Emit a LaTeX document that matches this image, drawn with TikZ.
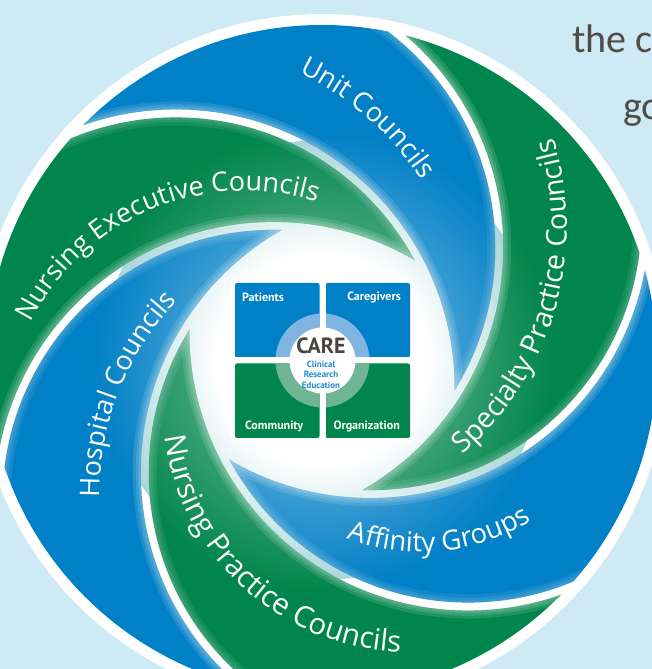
\documentclass[tikz,border=0pt]{standalone}
\usepackage{fontspec}
\setmainfont{Open Sans}
\newfontfamily\bladefont{Open Sans}
\newfontfamily\boxfont{PT Sans}
\newfontfamily\pagefont{Carlito}
\usetikzlibrary{decorations.text,fadings}

\definecolor{backdrop}{RGB}{206,234,244}
\definecolor{bladeblue}{RGB}{0,128,198}
\definecolor{bladegreen}{RGB}{0,134,76}
\definecolor{ringblue}{RGB}{128,180,226}
\definecolor{ringgreen}{RGB}{112,180,150}
\definecolor{caretext}{RGB}{72,68,62}
\definecolor{cliniblue}{RGB}{30,140,210}
\definecolor{greytext}{RGB}{80,76,70}
\definecolor{hubtint}{RGB}{150,205,208}
\definecolor{hubedge}{RGB}{110,180,205}

\pgfdeclareradialshading{hubshade}{\pgfpoint{0bp}{0bp}}{color(0bp)=(white); color(12bp)=(white); color(28bp)=(hubtint); color(50bp)=(hubedge)}
\tikzfading[name=hubfade, inner color=transparent!45, outer color=transparent!100]

\tikzset{
  bladelabel/.style 2 args={decorate, decoration={text along path, text align=center, text color=white, text={|\bladefont\fontsize{#1}{32}\selectfont|#2}}},
  quadlabel/.style={font={\boxfont\bfseries\fontsize{12}{14}\selectfont}, text=white, inner sep=0pt},
  pagetext/.style={font={\pagefont\fontsize{40}{48}\selectfont}, text=greytext, inner sep=0pt, anchor=base west}
}

\begin{document}
\begin{tikzpicture}[x=1pt,y=1pt]
\useasboundingbox (0,0) rectangle (652,669);
\clip (0,0) rectangle (652,669);
\fill[backdrop] (0,0) rectangle (652,669);
\node[pagetext] (lineone) at (572,616) {the c};
\node[pagetext] (linetwo) at (623,549) {go};

\begin{scope}[shift={(322,309)}]
\fill[white] (0,0) circle (346);
\shade[shading=hubshade] (0,0) circle (220);
\foreach \a/\col in {11/bladeblue,71/bladegreen,131/bladeblue,191/bladegreen,251/bladeblue,311/bladegreen}{
  \begin{scope}[even odd rule]
    \clip (\a:149) circle (271);
    \clip (0,0) circle (335);
    \clip (0,0) circle (340) (\a+60:149) circle (279);
    \fill[\col] (0,0) circle (340);
    \foreach \w in {16,10,5}{
      \draw[white, opacity=.12, line width=\w pt] (\a+60:149) circle (279);
      \draw[white, opacity=.08, line width=\w pt] (\a:149) circle (271);
    }
    \fill[white, path fading=hubfade] (0,0) circle (230);
  \end{scope}
}

\path[bladelabel={27}{Unit Councils}] ([shift={(83.5:303)}]-155,15) arc[start angle=83.5, end angle=13.5, radius=303];
\path[bladelabel={28.5}{Specialty Practice Councils}] ([shift={(-62:300)}]-55,133) arc[start angle=-62, end angle=30, radius=300];
\path[bladelabel={27.5}{Affinity Groups}] ([shift={(235.6:210)}]99,18) arc[start angle=235.6, end angle=315.6, radius=210];
\path[bladelabel={29.5}{Nursing Practice Councils}] ([shift={(172.5:245)}]86.5,-47) arc[start angle=172.5, end angle=282.5, radius=245];
\path[bladelabel={27}{Hospital Councils}] ([shift={(193.5:280)}]58,-134) arc[start angle=193.5, end angle=123.5, radius=280];
\path[bladelabel={27}{Nursing Executive Councils}] ([shift={(168:240)}]-76.6,-70.8) arc[start angle=168, end angle=58, radius=240];

\fill[white, rounded corners=10pt] (-92,-83) rectangle (93,82);
\fill[bladeblue, rounded corners=2pt] (-87,2.5) rectangle (-2.5,77);
\fill[bladeblue, rounded corners=2pt] (3.5,2.5) rectangle (88,77);
\fill[bladegreen, rounded corners=2pt] (-87,-78) rectangle (-2.5,-3.5);
\fill[bladegreen, rounded corners=2pt] (3.5,-78) rectangle (88,-3.5);
\fill[ringblue] (47.5,-0.5) arc[start angle=0, end angle=180, radius=47] -- cycle;
\fill[ringgreen] (47.5,-0.5) arc[start angle=0, end angle=-180, radius=47] -- cycle;
\fill[white] (-2.5,-83) rectangle (3.5,82);
\fill[white] (-92,-3.5) rectangle (93,2.5);
\fill[white] (0.5,-0.5) circle (33);

\node[quadlabel, anchor=west] (patients) at (-80,63) {Patients};
\node[quadlabel, anchor=east] (caregivers) at (79,63) {Caregivers};
\node[quadlabel, anchor=west] (community) at (-77,-66) {Community};
\node[quadlabel, anchor=east] (organization) at (78,-66) {Organization};
\node[font={\boxfont\bfseries\fontsize{22}{24}\selectfont}, text=caretext, inner sep=0pt] (care) at (-1,14.5) {CARE};
\node[font={\boxfont\bfseries\fontsize{9}{10.5}\selectfont}, text=cliniblue, align=center, inner sep=0pt] (pillars) at (-1,-14.5) {Clinical\\Research\\Education};
\end{scope}
\end{tikzpicture}
\end{document}
